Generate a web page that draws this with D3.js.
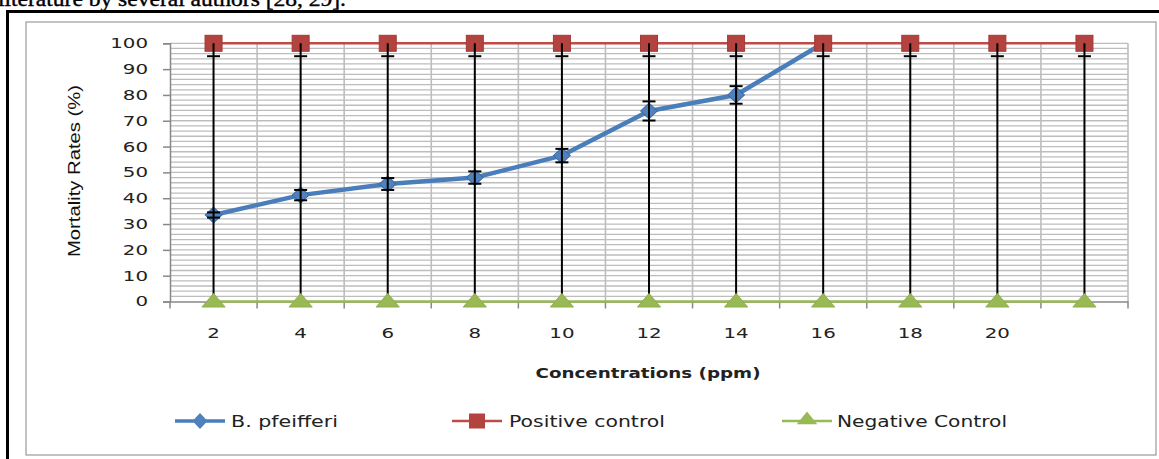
<!DOCTYPE html>
<html><head><meta charset="utf-8">
<script src="https://cdn.jsdelivr.net/npm/d3@7"></script>
<style>body{margin:0;background:#fff}svg{display:block}</style>
</head><body>
<svg id="c" width="1159" height="459"></svg>
<script>
const categories = ["2","4","6","8","10","12","14","16","18","20",""];
const bPfeifferi = [33.5, 41.2, 45.5, 48, 56.5, 73.8, 80, 100, null, null, null];
const bPfeifferiErr = [1, 2, 2.3, 2.4, 2.6, 3.7, 3.4, 0, 0, 0, 0];
const positiveControl = [100,100,100,100,100,100,100,100,100,100,100];
const positiveErrMinus = [5,5,5,5,5,5,5,5,5,5,5];
const negativeControl = [0,0,0,0,0,0,0,0,0,0,0];
const negativeErrPlus = [100,100,100,100,100,100,100,100,100,100,100];
const yTicks = [0,10,20,30,40,50,60,70,80,90,100];
const seriesNames = ["B. pfeifferi","Positive control","Negative Control"];

const svg = d3.select("#c");
// leftover caption from the page (cut at the top edge, as in the source)
svg.append("text").attr("x",-2).attr("y",6).attr("font-family","Liberation Serif").attr("font-size",21)
  .attr("textLength",348).attr("lengthAdjust","spacingAndGlyphs").attr("fill","#000").attr("stroke","#000").attr("stroke-width",0.4)
  .text("literature by several authors [28, 29].");
// outer black border
svg.append("rect").attr("x",7.5).attr("y",11.5).attr("width",1160).attr("height",460)
  .attr("fill","none").attr("stroke","#000").attr("stroke-width",3);
// chart area
svg.append("rect").attr("x",26).attr("y",22).attr("width",1130).attr("height",433)
  .attr("fill","#fff").attr("stroke","#9a9a9a").attr("stroke-width",1.2);

const x = d3.scaleBand().domain(categories).range([170,1128]).padding(0);
const y = d3.scaleLinear().domain([0,100]).range([301.5,43.3]);
const bw = x.bandwidth();
const cx = (i)=> x(categories[i]) + bw/2;

// grid
const g = svg.append("g");
g.selectAll(".hg").data(d3.range(2,101,2)).join("line")
  .attr("x1",170).attr("x2",1128).attr("y1",d=>y(d)).attr("y2",d=>y(d))
  .attr("stroke","#bdbdbd").attr("stroke-width",1.3);
g.selectAll(".vg").data(d3.range(1,12)).join("line")
  .attr("x1",d=>170+d*bw).attr("x2",d=>170+d*bw).attr("y1",y(100)).attr("y2",y(0))
  .attr("stroke","#bdbdbd").attr("stroke-width",1.6);

// axes
const yAxis = svg.append("g").attr("transform","translate(170,0)")
  .call(d3.axisLeft(y).tickValues(yTicks).tickSize(7).tickPadding(15));
yAxis.select(".domain").attr("stroke","#888").attr("stroke-width",1.5);
yAxis.selectAll(".tick line").attr("stroke","#888").attr("stroke-width",1.5);
yAxis.selectAll(".tick text").attr("font-family","DejaVu Sans").attr("font-size",14).attr("fill","#222")
  .attr("textLength",function(d){return String(d).length*12.6;}).attr("lengthAdjust","spacingAndGlyphs");

const xAxis = svg.append("g").attr("transform","translate(0,301.5)")
  .call(d3.axisBottom(x).tickSize(0).tickPadding(27));
xAxis.select(".domain").attr("stroke","#888").attr("stroke-width",1.5);
xAxis.selectAll(".tick text").attr("font-family","DejaVu Sans").attr("font-size",14).attr("fill","#222")
  .attr("textLength",function(d){return Math.max(1,String(d).length)*12.6;}).attr("lengthAdjust","spacingAndGlyphs");
xAxis.selectAll(".bt").data(d3.range(0,12)).join("line")
  .attr("x1",d=>170+d*bw).attr("x2",d=>170+d*bw).attr("y1",0).attr("y2",7)
  .attr("stroke","#888").attr("stroke-width",1.5);

// axis titles
svg.append("text").attr("transform","translate(80,171) rotate(-90)").attr("text-anchor","middle")
  .attr("font-family","Liberation Sans").attr("font-size",17).attr("fill","#111")
  .attr("textLength",172).attr("lengthAdjust","spacingAndGlyphs").text("Mortality Rates (%)");
svg.append("text").attr("x",648).attr("y",378).attr("text-anchor","middle")
  .attr("font-family","DejaVu Sans").attr("font-weight","bold").attr("font-size",14).attr("fill","#222")
  .attr("textLength",225).attr("lengthAdjust","spacingAndGlyphs").text("Concentrations (ppm)");

// lines
const blue="#4a7ebb", red="#be4b48", green="#98b954";
const line = d3.line().defined(d=>d.v!=null).x(d=>cx(d.i)).y(d=>y(d.v));
const toPts = arr => arr.map((v,i)=>({i,v}));
svg.append("path").attr("d",line(toPts(bPfeifferi))).attr("fill","none").attr("stroke",blue).attr("stroke-width",4.5).attr("stroke-linejoin","round");
svg.append("path").attr("d",line(toPts(positiveControl))).attr("fill","none").attr("stroke",red).attr("stroke-width",2.5);
svg.append("path").attr("d",line(toPts(negativeControl))).attr("fill","none").attr("stroke",green).attr("stroke-width",2.5);

// blue markers
const diamond = d3.symbol().type(d3.symbolDiamond).size(100);
svg.selectAll(".bm").data(toPts(bPfeifferi).filter(d=>d.v!=null)).join("path")
  .attr("d",diamond).attr("transform",d=>`translate(${cx(d.i)},${y(d.v)}) scale(1.55,0.85)`)
  .attr("fill","#4f81bd").attr("stroke","#3d6aa3").attr("stroke-width",0.8);

// red squares
svg.selectAll(".rm").data(toPts(positiveControl)).join("rect")
  .attr("x",d=>cx(d.i)-8.5).attr("y",d=>y(d.v)-8).attr("width",17).attr("height",16)
  .attr("fill","#b3433f").attr("stroke","#a23a37").attr("stroke-width",1);

// error bars
const eb = svg.append("g").attr("stroke","#000").attr("stroke-width",2);
negativeErrPlus.forEach((e,i)=>{
  eb.append("line").attr("x1",cx(i)).attr("x2",cx(i)).attr("y1",y(negativeControl[i])).attr("y2",y(negativeControl[i]+e));
});
positiveErrMinus.forEach((e,i)=>{
  eb.append("line").attr("x1",cx(i)-6.5).attr("x2",cx(i)+6.5).attr("y1",y(positiveControl[i]-e)).attr("y2",y(positiveControl[i]-e));
});
bPfeifferi.forEach((v,i)=>{
  const e=bPfeifferiErr[i];
  if(v==null||!e) return;
  [v-e,v+e].forEach(t=>eb.append("line").attr("x1",cx(i)-6.5).attr("x2",cx(i)+6.5).attr("y1",y(t)).attr("y2",y(t)));
});

// green triangles
const tri = d3.symbol().type(d3.symbolTriangle).size(150);
svg.selectAll(".gm").data(toPts(negativeControl)).join("path")
  .attr("d",tri).attr("transform",d=>`translate(${cx(d.i)},${y(d.v)+1}) scale(1.25,0.85)`)
  .attr("fill",green).attr("stroke","#8aaa4a").attr("stroke-width",0.8);

// legend
const legend = [
  {name:seriesNames[0], x0:175, tx:231, tl:107, color:blue, mark:"diamond"},
  {name:seriesNames[1], x0:452, tx:509, tl:156, color:red, mark:"square"},
  {name:seriesNames[2], x0:782, tx:837, tl:170, color:green, mark:"triangle"}
];
const ly=421;
legend.forEach(l=>{
  svg.append("line").attr("x1",l.x0).attr("x2",l.x0+50).attr("y1",ly).attr("y2",ly)
    .attr("stroke",l.color).attr("stroke-width",l.mark==="diamond"?3.5:2.5);
  const m = l.x0+25;
  if(l.mark==="diamond") svg.append("path").attr("d",diamond).attr("transform",`translate(${m},${ly}) scale(1.4,0.85)`).attr("fill","#4f81bd");
  if(l.mark==="square") svg.append("rect").attr("x",m-8).attr("y",ly-7.5).attr("width",16).attr("height",15).attr("fill","#b3433f");
  if(l.mark==="triangle") svg.append("path").attr("d",tri).attr("transform",`translate(${m},${ly-1}) scale(1.1,0.8)`).attr("fill",green);
  svg.append("text").attr("x",l.tx).attr("y",ly+5.5).attr("font-family","DejaVu Sans").attr("font-size",15).attr("fill","#222")
    .attr("textLength",l.tl).attr("lengthAdjust","spacingAndGlyphs").text(l.name);
});
</script>
</body></html>
